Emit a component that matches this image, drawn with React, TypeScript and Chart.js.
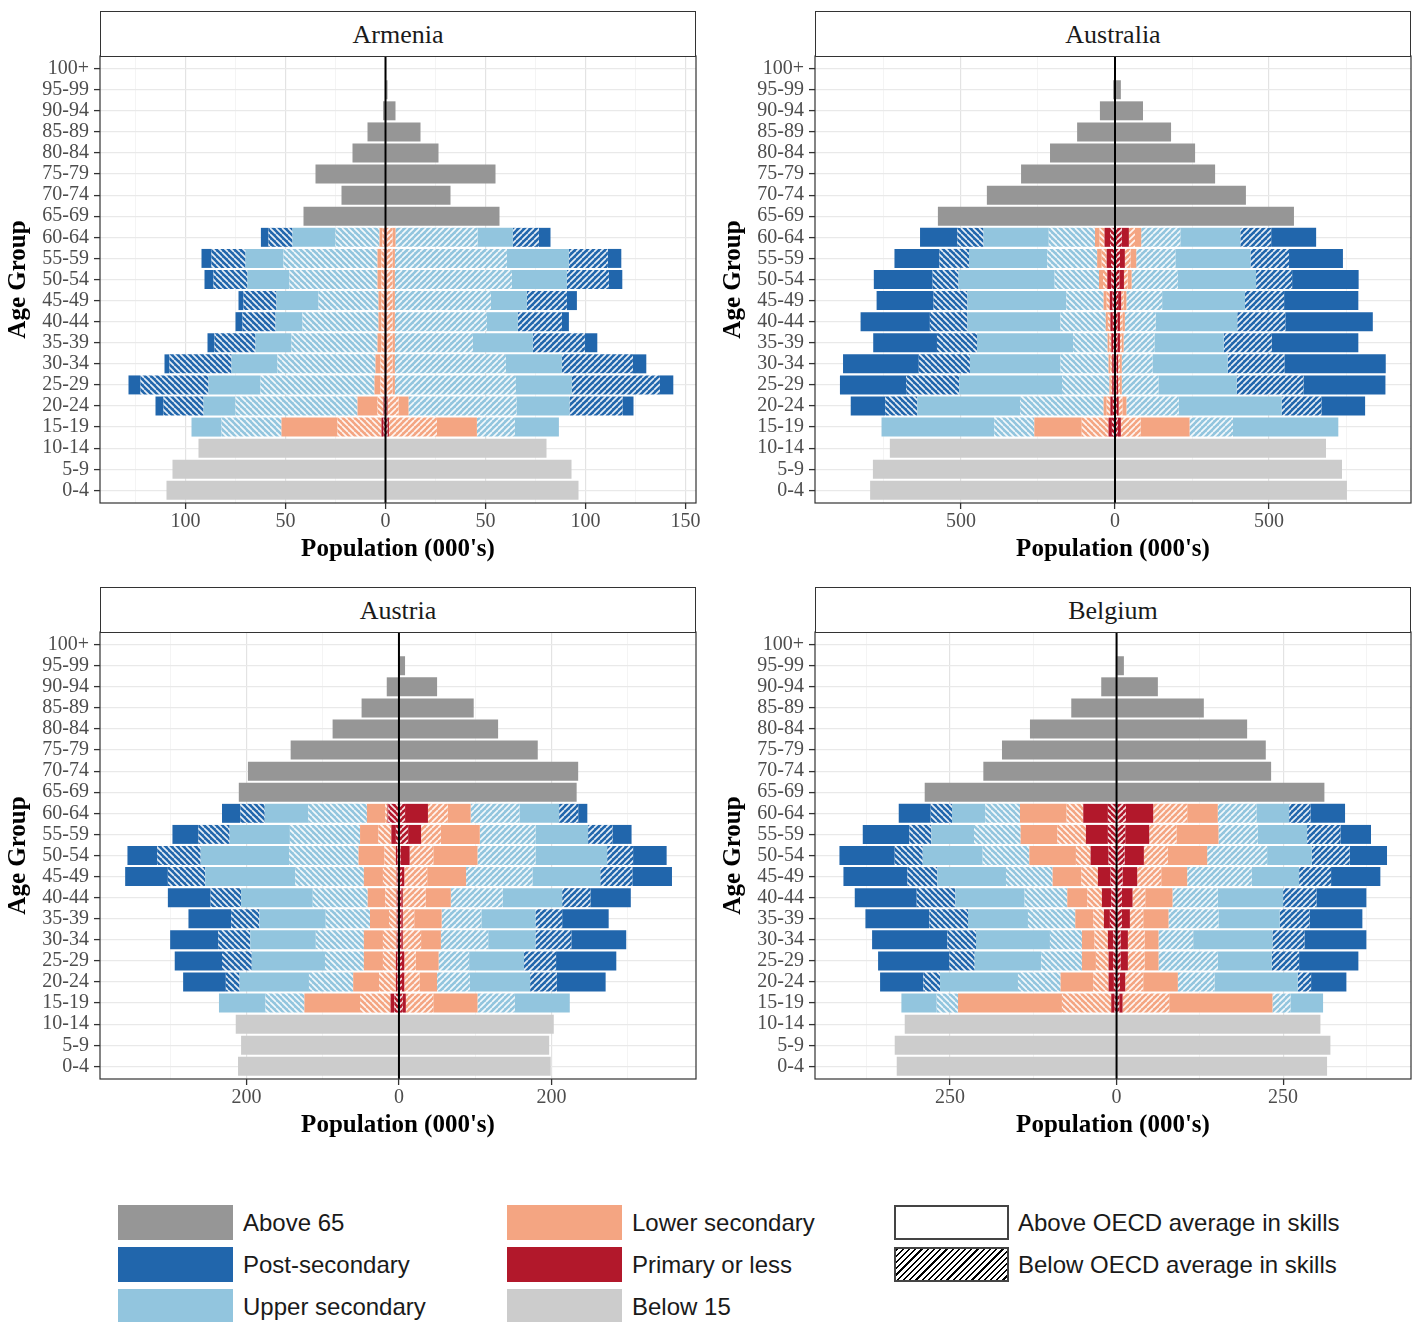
import React, { useEffect, useRef } from 'react';
import { Chart, registerables } from 'chart.js';

Chart.register(...registerables);

// ---------- DATA ----------
const ageGroups = ['0-4', '5-9', '10-14', '15-19', '20-24', '25-29', '30-34', '35-39', '40-44', '45-49', '50-54', '55-59', '60-64', '65-69', '70-74', '75-79', '80-84', '85-89', '90-94', '95-99', '100+'];

// education segments, ordered from the centre line outwards
const segmentLabels = ['Primary or less (below OECD)', 'Primary or less (above OECD)', 'Lower secondary (below OECD)', 'Lower secondary (above OECD)', 'Upper secondary (below OECD)', 'Upper secondary (above OECD)', 'Post-secondary (below OECD)', 'Post-secondary (above OECD)'];
const segmentHatched = [true, false, true, false, true, false, true, false];

// rows: 15-19 ... 60-64 ; columns follow segmentLabels
const armeniaLeftEdu = [
  [1, 1, 22, 28, 30, 15, 0, 0],
  [0.5, 0.5, 3, 10, 61, 16, 20, 4],
  [0.3, 0.2, 2, 3, 57, 26, 34, 6],
  [0.3, 0.2, 2, 2.5, 49, 23, 31, 2.5],
  [0.3, 0.2, 1.5, 2, 43, 18, 20.5, 3.5],
  [0.3, 0.2, 1.5, 1.5, 38, 13.5, 16.5, 3.5],
  [0.3, 0.2, 1.5, 1.5, 30, 21, 16.5, 2.5],
  [0.3, 0.2, 1.5, 2, 44, 21, 17, 4.5],
  [0.3, 0.2, 1.5, 2, 47, 19, 17, 5],
  [0.3, 0.2, 1, 1.5, 22, 21.5, 12, 3.8],
];
const armeniaRightEdu = [
  [1, 0.7, 24, 20, 19, 22, 0, 0],
  [0.5, 0.5, 5.5, 5, 54, 26.5, 26.5, 5.5],
  [0.3, 0.2, 3, 1.2, 60.5, 28, 44, 6.7],
  [0.3, 0.2, 3, 1.2, 55.5, 28, 35.5, 6.7],
  [0.3, 0.2, 3, 1.2, 39, 30, 26, 6.2],
  [0.3, 0.2, 3, 1.2, 46, 15.5, 22, 3.5],
  [0.3, 0.2, 3, 1.2, 48, 18, 20, 5],
  [0.3, 0.2, 3, 1.2, 58.5, 27.5, 21, 6.7],
  [0.3, 0.2, 3, 1.2, 56, 31, 19.5, 6.7],
  [0.3, 0.2, 3, 1.5, 41, 17.7, 13, 5.8],
];
// rows: 65-69 ... 100+
const armeniaLeftOld = [41, 22, 35, 16.5, 9, 1.2, 0, 0];
const armeniaRightOld = [57, 32.5, 55, 26.5, 17.5, 5, 1, 0.2];
// rows: 0-4, 5-9, 10-14
const armeniaLeftYoung = [109.5, 106.5, 93.5];
const armeniaRightYoung = [96.5, 93, 80.5];
const armeniaMajorTicks = [-100, -50, 0, 50, 100, 150];
const armeniaMinorTicks = [-125, -75, -25, 25, 75, 125];

const australiaLeftEdu = [
  [10, 11, 87, 154, 130, 366, 0, 0],
  [7, 8, 12, 10, 271, 334, 104, 112],
  [4, 5, 5, 4, 154, 334, 172, 215],
  [4, 5, 6, 6, 156, 294, 166, 246],
  [6, 6, 6, 6, 112, 312, 130, 207],
  [7, 8, 8, 7, 147, 302, 122, 225],
  [8, 9, 10, 10, 121, 321, 110, 185],
  [12, 13, 14, 13, 144, 312, 84, 191],
  [13, 14, 16, 15, 162, 254, 96, 146],
  [16, 18, 16, 15, 150, 212, 85, 121],
];
const australiaRightEdu = [
  [9, 10, 64, 159, 141, 342, 0, 0],
  [6, 6, 12, 13, 170, 334, 129, 142],
  [5, 5, 6, 6, 119, 254, 217, 266],
  [5, 5, 6, 6, 100, 244, 184, 329],
  [8, 8, 6, 6, 100, 225, 156, 281],
  [8, 8, 8, 8, 100, 265, 156, 284],
  [10, 10, 8, 9, 116, 269, 127, 241],
  [14, 15, 12, 13, 150, 254, 117, 216],
  [16, 16, 18, 19, 127, 244, 125, 175],
  [22, 23, 20, 20, 127, 195, 100, 146],
];
const australiaLeftOld = [575, 416, 305, 211, 123, 49, 6, 0.5];
const australiaRightOld = [581, 425, 325, 260, 182, 91, 19, 2];
const australiaLeftYoung = [795, 786, 731];
const australiaRightYoung = [753, 737, 685];
const australiaMajorTicks = [-500, 0, 500];
const australiaMinorTicks = [-750, -250, 250, 750];

const austriaLeftEdu = [
  [6, 5, 40, 73, 51, 61, 0, 0],
  [2, 2, 22, 34, 58, 91, 18, 56],
  [2, 2, 17, 25, 51, 96, 39, 62],
  [2, 1, 18, 25, 63, 86, 42, 63],
  [2, 1, 10, 25, 58, 87, 37, 56],
  [2, 1, 15, 23, 72, 94, 40, 56],
  [2, 1, 18, 25, 90, 118, 49, 56],
  [2, 2, 15, 34, 91, 116, 57, 39],
  [4, 6, 17, 24, 92, 79, 41, 34],
  [14, 1, 3, 24, 77, 57, 32, 24],
];
const austriaRightEdu = [
  [5, 4, 36, 58, 49, 72, 0, 0],
  [4, 3, 20, 23, 43, 79, 35, 64],
  [4, 3, 15, 30, 40, 72, 42, 79],
  [3, 2, 24, 26, 62, 62, 47, 72],
  [3, 2, 15, 36, 52, 71, 35, 61],
  [3, 2, 30, 33, 68, 78, 37, 53],
  [4, 3, 30, 51, 87, 89, 42, 52],
  [2, 12, 31, 58, 76, 94, 34, 44],
  [12, 17, 26, 51, 73, 69, 32, 25],
  [8, 30, 26, 30, 64, 52, 25, 12],
];
const austriaLeftOld = [210, 198, 142, 87, 49, 16, 1, 0];
const austriaRightOld = [233, 235, 182, 130, 98, 50, 8, 1];
const austriaLeftYoung = [211, 207, 214];
const austriaRightYoung = [199, 197, 203];
const austriaMajorTicks = [-200, 0, 200];
const austriaMinorTicks = [-300, -100, 100, 300];

const belgiumLeftEdu = [
  [3, 5, 74, 156, 32, 53, 0, 0],
  [4, 8, 23, 49, 64, 117, 25, 65],
  [5, 7, 19, 21, 61, 100, 38, 107],
  [5, 8, 20, 19, 48, 111, 43, 113],
  [10, 9, 16, 27, 71, 90, 58, 96],
  [8, 14, 22, 30, 64, 104, 58, 93],
  [9, 19, 25, 43, 70, 103, 45, 96],
  [12, 27, 22, 70, 70, 90, 42, 83],
  [13, 33, 43, 55, 70, 64, 33, 70],
  [13, 37, 25, 70, 52, 50, 32, 48],
];
const belgiumRightEdu = [
  [4, 5, 70, 155, 27, 49, 0, 0],
  [5, 8, 27, 52, 55, 125, 20, 53],
  [6, 11, 25, 21, 89, 81, 41, 89],
  [6, 11, 25, 21, 52, 119, 48, 93],
  [8, 12, 20, 38, 75, 92, 45, 79],
  [8, 16, 19, 41, 68, 98, 50, 75],
  [9, 22, 36, 39, 97, 71, 48, 74],
  [12, 29, 36, 59, 90, 67, 57, 56],
  [13, 36, 41, 63, 59, 74, 50, 46],
  [14, 41, 51, 46, 58, 49, 32, 52],
];
const belgiumLeftOld = [288, 200, 172, 130, 68, 23, 1, 0];
const belgiumRightOld = [312, 232, 224, 196, 131, 62, 11, 1];
const belgiumLeftYoung = [330, 333, 318];
const belgiumRightYoung = [316, 321, 306];
const belgiumMajorTicks = [-250, 0, 250];
const belgiumMinorTicks = [-375, -125, 125, 375];

// ---------- STYLE ----------
const SERIF = "'Liberation Serif', 'DejaVu Serif', serif";
const SANS = "'Liberation Sans', Arial, sans-serif";
const C_PRIMARY = '#b2182b';
const C_LOWER = '#f4a582';
const C_UPPER = '#92c5de';
const C_POST = '#2166ac';
const C_ABOVE65 = '#969696';
const C_BELOW15 = '#cccccc';
const segmentColors = [C_PRIMARY, C_PRIMARY, C_LOWER, C_LOWER, C_UPPER, C_UPPER, C_POST, C_POST];

function makeHatch(color: string, dir: number): CanvasPattern | string {
  const s = 6;
  const c = document.createElement('canvas');
  c.width = s;
  c.height = s;
  const g = c.getContext('2d');
  if (!g) return color;
  g.fillStyle = color;
  g.fillRect(0, 0, s, s);
  g.strokeStyle = 'rgba(255,255,255,0.88)';
  g.lineWidth = 1.7;
  g.beginPath();
  for (let k = -1; k <= 1; k++) {
    if (dir > 0) {
      g.moveTo(k * s, s);
      g.lineTo(k * s + s, 0);
    } else {
      g.moveTo(k * s, 0);
      g.lineTo(k * s + s, s);
    }
  }
  g.stroke();
  return g.createPattern(c, 'repeat') || color;
}

type PanelDef = {
  name: string;
  leftEdu: number[][];
  rightEdu: number[][];
  leftOld: number[];
  rightOld: number[];
  leftYoung: number[];
  rightYoung: number[];
  majors: number[];
  minors: number[];
  min: number;
  max: number;
  px: number;
  py: number;
};

const panels: PanelDef[] = [
  { name: 'Armenia', leftEdu: armeniaLeftEdu, rightEdu: armeniaRightEdu, leftOld: armeniaLeftOld, rightOld: armeniaRightOld, leftYoung: armeniaLeftYoung, rightYoung: armeniaRightYoung, majors: armeniaMajorTicks, minors: armeniaMinorTicks, min: -142.75, max: 155.25, px: 0, py: 0 },
  { name: 'Australia', leftEdu: australiaLeftEdu, rightEdu: australiaRightEdu, leftOld: australiaLeftOld, rightOld: australiaRightOld, leftYoung: australiaLeftYoung, rightYoung: australiaRightYoung, majors: australiaMajorTicks, minors: australiaMinorTicks, min: -974, max: 961, px: 715, py: 0 },
  { name: 'Austria', leftEdu: austriaLeftEdu, rightEdu: austriaRightEdu, leftOld: austriaLeftOld, rightOld: austriaRightOld, leftYoung: austriaLeftYoung, rightYoung: austriaRightYoung, majors: austriaMajorTicks, minors: austriaMinorTicks, min: -392, max: 389.5, px: 0, py: 576 },
  { name: 'Belgium', leftEdu: belgiumLeftEdu, rightEdu: belgiumRightEdu, leftOld: belgiumLeftOld, rightOld: belgiumRightOld, leftYoung: belgiumLeftYoung, rightYoung: belgiumRightYoung, majors: belgiumMajorTicks, minors: belgiumMinorTicks, min: -452.7, max: 442, px: 715, py: 576 },
];

const overlayPlugin = {
  id: 'pyramidOverlay',
  afterDatasetsDraw(chart: any) {
    const { ctx, chartArea: a, scales } = chart;
    const x0 = scales.x.getPixelForValue(0);
    ctx.save();
    ctx.strokeStyle = '#000';
    ctx.lineWidth = 2;
    ctx.beginPath();
    ctx.moveTo(x0, a.top);
    ctx.lineTo(x0, a.bottom);
    ctx.stroke();
    ctx.strokeStyle = '#333';
    ctx.lineWidth = 1.2;
    ctx.strokeRect(a.left, a.top, a.right - a.left, a.bottom - a.top);
    ctx.restore();
  },
};

function buildDatasets(p: PanelDef) {
  const ds: any[] = [];
  const sides = [
    { sign: -1, edu: p.leftEdu, old: p.leftOld, young: p.leftYoung, side: 'left' },
    { sign: 1, edu: p.rightEdu, old: p.rightOld, young: p.rightYoung, side: 'right' },
  ];
  const pts = (fn: (k: number) => number | null) =>
    ageGroups
      .map((_, k) => ({ x: fn(k), y: k }))
      .filter((d) => d.x !== null);
  for (const s of sides) {
    for (let i = 0; i < segmentLabels.length; i++) {
      const bg = segmentHatched[i] ? makeHatch(segmentColors[i], s.sign) : segmentColors[i];
      ds.push({
        label: segmentLabels[i] + ' ' + s.side,
        data: pts((k) => (k >= 3 && k <= 12 ? s.sign * s.edu[k - 3][i] : null)),
        backgroundColor: bg,
      });
    }
    ds.push({
      label: 'Above 65 ' + s.side,
      data: pts((k) => (k >= 13 ? s.sign * s.old[k - 13] : null)),
      backgroundColor: C_ABOVE65,
    });
    ds.push({
      label: 'Below 15 ' + s.side,
      data: pts((k) => (k <= 2 ? s.sign * s.young[k] : null)),
      backgroundColor: C_BELOW15,
    });
  }
  return ds.map((d) => ({ ...d, stack: 'pop', borderWidth: 0, barPercentage: 0.9, categoryPercentage: 1 }));
}

const CANVAS_W = 708;
const CANVAS_H = 546;
const PAD_TOP = 20;

function Panel({ p }: { p: PanelDef }) {
  const ref = useRef<HTMLCanvasElement | null>(null);
  useEffect(() => {
    if (!ref.current) return;
    const allTicks = [...p.majors, ...p.minors].sort((a, b) => a - b);
    const chart = new Chart(ref.current, {
      type: 'bar',
      data: { datasets: buildDatasets(p) },
      options: {
        indexAxis: 'y',
        responsive: false,
        maintainAspectRatio: false,
        animation: false,
        layout: { padding: { top: PAD_TOP, right: 12, bottom: 0, left: 0 } },
        plugins: { legend: { display: false }, tooltip: { enabled: false } },
        scales: {
          x: {
            type: 'linear',
            stacked: true,
            min: p.min,
            max: p.max,
            afterBuildTicks: (s: any) => {
              s.ticks = allTicks.map((v) => ({ value: v }));
            },
            afterFit: (s: any) => {
              s.height = 79;
            },
            ticks: {
              autoSkip: false,
              maxRotation: 0,
              padding: 1,
              color: '#4d4d4d',
              font: { family: SERIF, size: 20 },
              callback: (v: any) => (p.majors.includes(Number(v)) ? String(Math.abs(Number(v))) : ''),
            },
            grid: {
              color: (c: any) => (c.tick && p.majors.includes(c.tick.value) ? '#e3e3e3' : '#f1f1f1'),
              lineWidth: (c: any) => (c.tick && p.majors.includes(c.tick.value) ? 1.2 : 0.8),
              tickColor: (c: any) => (c.tick && p.majors.includes(c.tick.value) ? '#333' : 'rgba(0,0,0,0)'),
              tickLength: 6,
              tickWidth: 1.3,
            },
            border: { display: false },
            title: {
              display: true,
              text: "Population (000's)",
              color: '#000',
              font: { family: SERIF, size: 25, weight: 'bold' },
              padding: { top: 0, bottom: 17 },
            },
          },
          y: {
            type: 'linear',
            stacked: true,
            offset: false,
            min: -0.6,
            max: ageGroups.length - 1 + 0.6,
            afterBuildTicks: (s: any) => {
              s.ticks = ageGroups.map((_, k) => ({ value: k }));
            },
            afterFit: (s: any) => {
              s.width = 100;
            },
            ticks: {
              autoSkip: false,
              padding: 5,
              color: '#4d4d4d',
              font: { family: SERIF, size: 20 },
              callback: (v: any) => ageGroups[Math.round(Number(v))] ?? '',
            },
            grid: {
              offset: false,
              color: '#e9e9e9',
              lineWidth: 1.2,
              tickColor: '#333',
              tickLength: 6,
              tickWidth: 1.3,
            },
            border: { display: false },
            title: {
              display: true,
              text: 'Age Group',
              color: '#000',
              font: { family: SERIF, size: 25, weight: 'bold' },
              padding: { top: 4, bottom: 0 },
            },
          },
        },
      } as any,
      plugins: [overlayPlugin],
    });
    return () => chart.destroy();
  }, [p]);

  return (
    <>
      <canvas
        ref={ref}
        width={CANVAS_W}
        height={CANVAS_H}
        style={{ position: 'absolute', left: p.px, top: p.py + 56 - PAD_TOP, width: CANVAS_W, height: CANVAS_H }}
      />
      <div
        style={{
          position: 'absolute',
          left: p.px + 100,
          top: p.py + 11,
          width: 596,
          height: 46,
          boxSizing: 'border-box',
          border: '1.2px solid #333',
          background: '#fff',
          display: 'flex',
          alignItems: 'center',
          justifyContent: 'center',
          paddingTop: 2,
          fontFamily: SERIF,
          fontSize: 26,
          color: '#1a1a1a',
        }}
      >
        {p.name}
      </div>
    </>
  );
}

const legendItems = [
  { label: 'Above 65', col: 0, row: 0, fill: C_ABOVE65 },
  { label: 'Post-secondary', col: 0, row: 1, fill: C_POST },
  { label: 'Upper secondary', col: 0, row: 2, fill: C_UPPER },
  { label: 'Lower secondary', col: 1, row: 0, fill: C_LOWER },
  { label: 'Primary or less', col: 1, row: 1, fill: C_PRIMARY },
  { label: 'Below 15', col: 1, row: 2, fill: C_BELOW15 },
  { label: 'Above OECD average in skills', col: 2, row: 0, fill: 'outline' },
  { label: 'Below OECD average in skills', col: 2, row: 1, fill: 'hatch' },
];
const legendSwatchX = [118, 507, 894];
const legendTextX = [243, 632, 1018];
const legendRowY = [1205, 1247, 1289];

function Legend() {
  return (
    <>
      {legendItems.map((it) => {
        const sw: React.CSSProperties = {
          position: 'absolute',
          left: legendSwatchX[it.col],
          top: legendRowY[it.row],
          width: 115,
          height: 35,
          boxSizing: 'border-box',
        };
        if (it.fill === 'outline') {
          sw.background = '#fff';
          sw.border = '2px solid #444';
        } else if (it.fill === 'hatch') {
          sw.background = 'repeating-linear-gradient(135deg, #000 0px, #000 1.6px, #fff 1.6px, #fff 4.4px)';
          sw.border = '2px solid #444';
        } else {
          sw.background = it.fill;
        }
        return (
          <React.Fragment key={it.label}>
            <div style={sw} />
            <div
              style={{
                position: 'absolute',
                left: legendTextX[it.col],
                top: legendRowY[it.row],
                height: 35,
                lineHeight: '35px',
                fontFamily: SANS,
                fontSize: 24,
                color: '#1a1a1a',
                whiteSpace: 'nowrap',
              }}
            >
              {it.label}
            </div>
          </React.Fragment>
        );
      })}
    </>
  );
}

export default function App() {
  return (
    <div style={{ position: 'absolute', left: 0, top: 0, width: 1416, height: 1322, background: '#fff', overflow: 'hidden' }}>
      {panels.map((p) => (
        <Panel key={p.name} p={p} />
      ))}
      <Legend />
    </div>
  );
}
